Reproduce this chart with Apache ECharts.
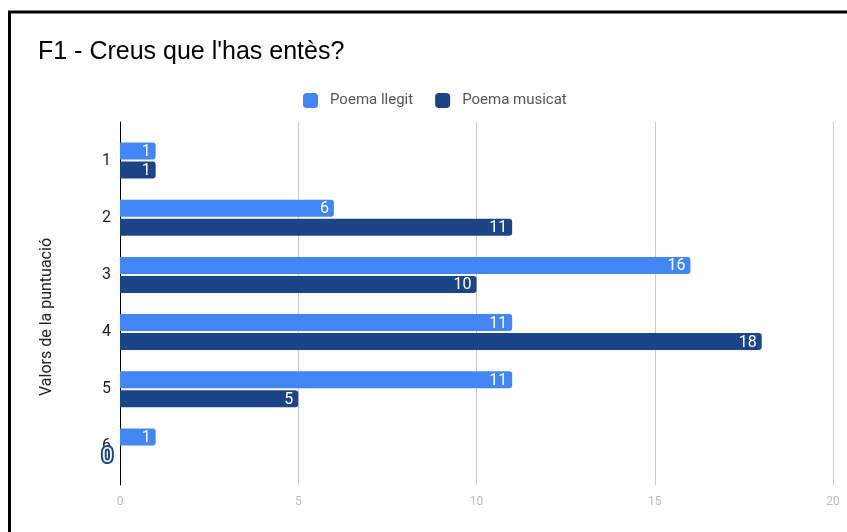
<!DOCTYPE html>
<html>
<head>
<meta charset="utf-8">
<script src="https://cdn.jsdelivr.net/npm/echarts@6/dist/echarts.min.js"></script>
<style>html,body{margin:0;padding:0;background:#fff}#c{width:847px;height:532px}</style>
</head>
<body>
<div id="c"></div>
<script>
const categories = ['1', '2', '3', '4', '5', '6'];
const poemaLlegit = [1, 6, 16, 11, 11, 1];
const poemaMusicat = [1, 11, 10, 18, 5, 0];
const seriesNames = ['Poema llegit', 'Poema musicat'];
const xTicks = [0, 5, 10, 15, 20];

const colors = ['#4285F4', '#1C4587'];
const chart = echarts.init(document.getElementById('c'));

function barLabel(color) {
  return {
    show: true, position: 'insideRight', distance: 5,
    color: '#fff', fontSize: 16, fontFamily: 'Roboto', offset: [0, 1],
    textBorderColor: color, textBorderWidth: 1
  };
}

const musicatData = poemaMusicat.map(v => v === 0 ? {
  value: v,
  label: {show: true, position: 'left', distance: 7, color: '#fff', fontSize: 20, fontFamily: 'Roboto',
          textBorderColor: colors[1], textBorderWidth: 4, offset: [0, 1]}
} : v);

chart.setOption({
  animation: false,
  title: {
    text: "F1 - Creus que l'has entès?", left: 33, top: 35,
    textStyle: {fontSize: 25, fontWeight: 'normal', color: '#000', fontFamily: 'Liberation Sans'}
  },
  legend: {
    data: seriesNames, left: 298, top: 88, itemWidth: 15, itemHeight: 15, itemGap: 22,
    icon: 'roundRect',
    textStyle: {fontSize: 15, color: '#555', fontFamily: 'Roboto', padding: [0, 0, 0, 7]}
  },
  graphic: [
    {type: 'rect', shape: {x: 9.5, y: 12, width: 900, height: 600},
     style: {fill: 'none', stroke: '#000', lineWidth: 3}, z: 100},
    {type: 'text', x: 47, y: 317, rotation: Math.PI / 2,
     style: {text: 'Valors de la puntuació', fontSize: 16, fontFamily: 'Roboto', fill: '#222',
             align: 'center', verticalAlign: 'middle'}}
  ],
  grid: [
    {left: 120, right: 14, top: 122, bottom: 47},
    {left: 120, right: 14, top: 132, bottom: 57}
  ],
  xAxis: [
    {type: 'value', gridIndex: 0, min: xTicks[0], max: xTicks[xTicks.length - 1], interval: 5,
     axisLine: {show: false}, axisTick: {show: false},
     splitLine: {lineStyle: {color: '#ccc', width: 1}},
     axisLabel: {color: '#bbb', fontSize: 12, fontFamily: 'Roboto', margin: 11}},
    {type: 'value', gridIndex: 1, min: xTicks[0], max: xTicks[xTicks.length - 1], interval: 5,
     show: false}
  ],
  yAxis: [
    {type: 'category', gridIndex: 0, data: categories, inverse: true,
     axisLine: {lineStyle: {color: '#000', width: 1}}, axisTick: {show: false},
     axisLabel: {show: false}, splitLine: {show: false}},
    {type: 'category', gridIndex: 1, data: categories, inverse: true,
     axisLine: {show: false}, axisTick: {show: false},
     axisLabel: {color: '#222', fontSize: 16, fontFamily: 'Roboto', margin: 9}}
  ],
  series: [
    {name: seriesNames[0], type: 'bar', xAxisIndex: 1, yAxisIndex: 1, data: poemaLlegit,
     barWidth: 17, barGap: '12%', itemStyle: {color: colors[0], borderRadius: [0, 3, 3, 0]},
     label: barLabel(colors[0])},
    {name: seriesNames[1], type: 'bar', xAxisIndex: 1, yAxisIndex: 1, data: musicatData,
     barWidth: 17, barGap: '12%', itemStyle: {color: colors[1], borderRadius: [0, 3, 3, 0]},
     label: barLabel(colors[1])}
  ]
});
</script>
</body>
</html>
